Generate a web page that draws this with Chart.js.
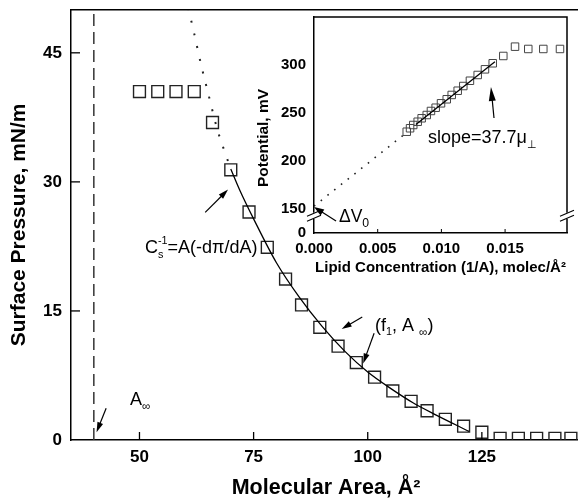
<!DOCTYPE html>
<html>
<head>
<meta charset="utf-8">
<script src="https://cdn.jsdelivr.net/npm/chart.js@4.4.1/dist/chart.umd.min.js"></script>
<style>
  html, body { margin: 0; padding: 0; background: #fff; overflow: hidden; }
  #wrap { position: relative; width: 578px; height: 500px; overflow: hidden; }
  #mainChart { position: absolute; left: 0; top: 0; }
  #insetChart { position: absolute; left: 250px; top: 0; }
</style>
</head>
<body>
<div id="wrap">
  <canvas id="mainChart" width="591" height="500"></canvas>
  <canvas id="insetChart" width="328" height="280"></canvas>
</div>
<script>
// Isotherme principale (aire moléculaire / pression de surface)
const areaValues = [50, 54, 58, 62, 66, 70, 74, 78, 82, 85.5, 89.5, 93.5, 97.5, 101.5, 105.5, 109.5, 113, 117, 121, 125, 129, 133, 137, 141, 144.5];
const pressureValues = [40.5, 40.5, 40.5, 40.5, 36.9, 31.4, 26.5, 22.4, 18.7, 15.7, 13.1, 10.9, 9.0, 7.3, 5.7, 4.5, 3.4, 2.4, 1.6, 0.9, 0.2, 0.2, 0.2, 0.2, 0.2];
// courbe ajustée (trait plein) et son prolongement (pointillés)
const fitArea = [70, 72, 75, 80, 85, 90, 95, 100, 105, 110, 115, 122.2];
const fitPressure = [31.5, 29, 25.7, 20.6, 16.6, 13.2, 10.3, 7.9, 6.0, 4.3, 2.9, 1.0];
const extrapArea = [60.7, 62, 63.5, 65, 67, 69, 70];
const extrapPressure = [50.2, 47.2, 43.6, 40.4, 36.2, 33, 31.5];
const limitArea = 40; // A∞
const areaTicks = [50, 75, 100, 125];
const pressureTicks = [0, 15, 30, 45];

// Encart (concentration / potentiel)
const concValues = [0.00728, 0.00754, 0.00779, 0.00814, 0.00845, 0.00885, 0.00918, 0.00955, 0.00997, 0.01042, 0.01081, 0.01128, 0.01172, 0.01224, 0.01285, 0.01342, 0.01403, 0.01486, 0.01578, 0.01682, 0.01800, 0.01931];
const potentialValues = [230.5, 234.1, 237.5, 240.9, 244.5, 247.9, 252.1, 255.5, 260.1, 264.3, 268.8, 273.2, 278.1, 283.6, 289.6, 295.5, 301.8, 309.4, 319.1, 316.7, 316.7, 316.7];
const slopeConc = [0.0080, 0.0142];
const slopePotential = [238, 303.5];
const dottedConc = [0, 0.0073];
const dottedPotential = [153, 230];
const concTicks = [0, 0.005, 0.010, 0.015];
const potentialTicks = [150, 200, 250, 300];
const potentialMin = 125; // bas de l'axe coupé, affiché "0"

const FONT = "'Liberation Sans', Arial, Helvetica, sans-serif";
Chart.defaults.font.family = FONT;
Chart.defaults.color = "#000";

function toPoints(xs, ys) {
  return xs.map((x, i) => ({ x: x, y: ys[i] }));
}

// flèche avec pointe pleine
function drawArrow(ctx, x1, y1, x2, y2, headLen, headW) {
  const ang = Math.atan2(y2 - y1, x2 - x1);
  const c = Math.cos(ang), s = Math.sin(ang);
  ctx.beginPath();
  ctx.moveTo(x1, y1);
  ctx.lineTo(x2 - c * headLen * 0.8, y2 - s * headLen * 0.8);
  ctx.stroke();
  ctx.beginPath();
  ctx.moveTo(x2, y2);
  ctx.lineTo(x2 - headLen * c + (headW / 2) * s, y2 - headLen * s - (headW / 2) * c);
  ctx.lineTo(x2 - headLen * c - (headW / 2) * s, y2 - headLen * s + (headW / 2) * c);
  ctx.closePath();
  ctx.fill();
}

// texte avec indices / exposants
function drawRich(ctx, x, y, parts, size) {
  ctx.textBaseline = "middle";
  ctx.textAlign = "left";
  let cx = x;
  parts.forEach((p) => {
    const fs = p.mode ? size * (p.scale || 0.6) : size;
    ctx.font = fs + "px " + FONT;
    let dy = 0;
    if (p.mode === "sub") dy = size * 0.38;
    if (p.mode === "sup") dy = -size * 0.4;
    ctx.fillText(p.t, cx, y + dy);
    if (!p.keep) cx += ctx.measureText(p.t).width;
  });
}

// ---------- graphique principal ----------
const mainPlugin = {
  id: "mainDecor",
  afterDraw(chart) {
    const ctx = chart.ctx;
    const xs = chart.scales.x, ys = chart.scales.y;
    const area = chart.chartArea;
    const px = (v) => xs.getPixelForValue(v);
    const py = (v) => ys.getPixelForValue(v);
    ctx.save();
    ctx.strokeStyle = "#000";
    ctx.fillStyle = "#000";
    // bord supérieur
    ctx.lineWidth = 1.5;
    ctx.beginPath();
    ctx.moveTo(area.left, area.top);
    ctx.lineTo(area.right, area.top);
    ctx.stroke();
    // graduations intérieures
    ctx.lineWidth = 1.3;
    areaTicks.forEach((v) => {
      ctx.beginPath();
      ctx.moveTo(px(v), area.bottom);
      ctx.lineTo(px(v), area.bottom - 8);
      ctx.stroke();
    });
    pressureTicks.slice(1).forEach((v) => {
      ctx.beginPath();
      ctx.moveTo(area.left, py(v));
      ctx.lineTo(area.left + 9, py(v));
      ctx.stroke();
    });
    // annotations
    ctx.lineWidth = 1.2;
    drawRich(ctx, px(51.2), py(22.3), [
      { t: "C" }, { t: "s", mode: "sub", keep: true }, { t: "-1", mode: "sup" }, { t: "=A(-dπ/dA)" }
    ], 18);
    drawArrow(ctx, px(64.4), py(26.45), px(69.4), py(29.1), 10, 6);
    drawRich(ctx, px(101.6), py(13.3), [
      { t: "(f" }, { t: "1", mode: "sub" }, { t: ", A " }, { t: "∞", mode: "sub", scale: 0.65 }, { t: ")" }
    ], 18);
    drawArrow(ctx, px(98.8), py(14.3), px(94.3), py(12.9), 10, 6);
    drawArrow(ctx, px(101.4), py(12.4), px(99.0), py(8.9), 10, 6);
    drawRich(ctx, px(47.9), py(4.6), [
      { t: "A" }, { t: "∞", mode: "sub", scale: 0.65 }
    ], 18);
    drawArrow(ctx, px(42.7), py(3.7), px(40.6), py(0.9), 10, 6);
    ctx.restore();
  }
};

new Chart(document.getElementById("mainChart"), {
  type: "scatter",
  data: {
    datasets: [
      {
        label: "fit",
        type: "line",
        data: toPoints(fitArea, fitPressure),
        borderColor: "#000",
        borderWidth: 1.3,
        pointRadius: 0,
        cubicInterpolationMode: "monotone",
        fill: false
      },
      {
        label: "extrapolation",
        type: "line",
        data: toPoints(extrapArea, extrapPressure),
        borderColor: "#222",
        borderWidth: 2,
        borderDash: [2, 11],
        pointRadius: 0,
        cubicInterpolationMode: "monotone",
        fill: false
      },
      {
        label: "A infini",
        type: "line",
        data: toPoints([limitArea, limitArea], [0, 50]),
        borderColor: "#333",
        borderWidth: 1.5,
        borderDash: [12, 6],
        pointRadius: 0,
        fill: false
      },
      {
        label: "isotherme",
        data: toPoints(areaValues, pressureValues),
        pointStyle: "rect",
        pointRadius: 8.4,
        backgroundColor: "rgba(0,0,0,0)",
        borderColor: "#222",
        borderWidth: 1.4
      }
    ]
  },
  options: {
    responsive: false,
    animation: false,
    layout: { padding: { top: 8, left: 0, right: 0, bottom: 0 } },
    plugins: { legend: { display: false }, tooltip: { enabled: false } },
    scales: {
      x: {
        type: "linear",
        min: 35,
        max: 146.76,
        afterBuildTicks: (s) => { s.ticks = areaTicks.map((v) => ({ value: v })); },
        afterFit: (s) => { s.height = 60; s.paddingLeft = 0; s.paddingRight = 0; },
        grid: { display: false, drawTicks: false },
        border: { display: true, color: "#000", width: 1.5 },
        ticks: { font: { size: 17, weight: "bold" }, color: "#000", padding: 7, maxRotation: 0 },
        title: { display: true, text: "Molecular Area, Å²", font: { size: 21.5, weight: "bold" }, padding: { top: 0, bottom: -1 } }
      },
      y: {
        type: "linear",
        min: 0,
        max: 50,
        afterBuildTicks: (s) => { s.ticks = pressureTicks.map((v) => ({ value: v })); },
        afterFit: (s) => { s.width = 71; s.paddingTop = 0; s.paddingBottom = 0; },
        grid: { display: false, drawTicks: false },
        border: { display: true, color: "#000", width: 1.5 },
        ticks: { font: { size: 17, weight: "bold" }, color: "#000", padding: 9 },
        title: { display: true, text: "Surface Pressure, mN/m", font: { size: 21, weight: "bold" }, padding: { top: 7, bottom: 0 } }
      }
    }
  },
  plugins: [mainPlugin]
});

// ---------- encart ----------
const insetPlugin = {
  id: "insetDecor",
  afterDraw(chart) {
    const ctx = chart.ctx;
    const xs = chart.scales.x, ys = chart.scales.y;
    const area = chart.chartArea;
    const px = (v) => xs.getPixelForValue(v);
    const py = (v) => ys.getPixelForValue(v);
    ctx.save();
    ctx.strokeStyle = "#000";
    ctx.fillStyle = "#000";
    // cadre haut et droit
    ctx.lineWidth = 1.5;
    ctx.beginPath();
    ctx.moveTo(area.left, area.top);
    ctx.lineTo(area.right, area.top);
    ctx.lineTo(area.right, area.bottom);
    ctx.stroke();
    // graduations
    ctx.lineWidth = 1;
    concTicks.slice(1).forEach((v) => {
      ctx.beginPath();
      ctx.moveTo(px(v), area.bottom);
      ctx.lineTo(px(v), area.bottom - 4);
      ctx.stroke();
    });
    // coupure de l'axe
    const yb = py(143);
    [area.left, area.right].forEach((xb) => {
      ctx.fillStyle = "#fff";
      ctx.fillRect(xb - 2, yb - 3, 4, 6);
      ctx.fillStyle = "#000";
      ctx.lineWidth = 1.1;
      [-2.5, 2.5].forEach((d) => {
        ctx.beginPath();
        ctx.moveTo(xb - 7, yb + d + 3);
        ctx.lineTo(xb + 7, yb + d - 3);
        ctx.stroke();
      });
    });
    // titre de l'axe y
    ctx.save();
    ctx.translate(area.left - 50, (area.top + area.bottom) / 2 + 13);
    ctx.rotate(-Math.PI / 2);
    ctx.font = "bold 15.5px " + FONT;
    ctx.textAlign = "center";
    ctx.textBaseline = "middle";
    ctx.fillText("Potential, mV", 0, 0);
    ctx.restore();
    // annotations
    ctx.lineWidth = 1.2;
    drawRich(ctx, px(0.00895), py(224), [
      { t: "slope=37.7μ" }, { t: "⊥", mode: "sub" }
    ], 18);
    drawArrow(ctx, px(0.01413), py(244.8), px(0.01389), py(277.1), 14, 7);
    drawRich(ctx, px(0.00196), py(141.7), [
      { t: "ΔV" }, { t: "0", mode: "sub", scale: 0.7 }
    ], 17.5);
    drawArrow(ctx, px(0.00173), py(137.5), px(0.0), py(152), 10, 7);
    ctx.restore();
  }
};

new Chart(document.getElementById("insetChart"), {
  type: "scatter",
  data: {
    datasets: [
      {
        label: "pente",
        type: "line",
        data: toPoints(slopeConc, slopePotential),
        borderColor: "#000",
        borderWidth: 1.3,
        pointRadius: 0,
        fill: false
      },
      {
        label: "extrapolation",
        type: "line",
        data: toPoints(dottedConc, dottedPotential),
        borderColor: "#222",
        borderWidth: 1.6,
        borderDash: [1.6, 7],
        pointRadius: 0,
        fill: false
      },
      {
        label: "potentiel",
        data: toPoints(concValues, potentialValues),
        pointStyle: "rect",
        pointRadius: 5.3,
        backgroundColor: "rgba(0,0,0,0)",
        borderColor: "#444",
        borderWidth: 1
      }
    ]
  },
  options: {
    responsive: false,
    animation: false,
    layout: { padding: { top: 17, left: 0, right: 11, bottom: 0 } },
    plugins: { legend: { display: false }, tooltip: { enabled: false } },
    scales: {
      x: {
        type: "linear",
        min: 0,
        max: 0.01986,
        afterBuildTicks: (s) => { s.ticks = concTicks.map((v) => ({ value: v })); },
        afterFit: (s) => { s.height = 47; s.paddingLeft = 0; s.paddingRight = 0; },
        grid: { display: false, drawTicks: false },
        border: { display: true, color: "#000", width: 1.5 },
        ticks: { font: { size: 15, weight: "bold" }, color: "#000", padding: 7, maxRotation: 0, callback: (v) => v.toFixed(3) },
        title: { display: true, text: "Lipid Concentration (1/A), molec/Å²", font: { size: 15, weight: "bold" }, padding: { top: 0, bottom: 3 } }
      },
      y: {
        type: "linear",
        min: potentialMin,
        max: 350,
        afterBuildTicks: (s) => { s.ticks = [potentialMin].concat(potentialTicks).map((v) => ({ value: v })); },
        afterFit: (s) => { s.width = 64; s.paddingTop = 0; s.paddingBottom = 0; },
        grid: { display: false, drawTicks: false },
        border: { display: true, color: "#000", width: 1.5 },
        ticks: { font: { size: 15, weight: "bold" }, color: "#000", padding: 8, callback: (v) => (v === potentialMin ? "0" : v) },
        title: { display: false }
      }
    }
  },
  plugins: [insetPlugin]
});
</script>
</body>
</html>
